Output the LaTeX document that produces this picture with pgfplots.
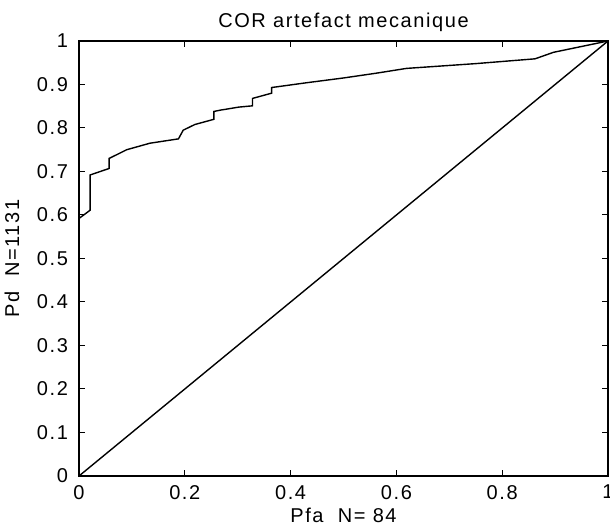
\documentclass[border=0pt]{standalone}
\usepackage{fontspec}
\setmainfont{Liberation Sans}[LetterSpace=8]
\usepackage{pgfplots}
\pgfplotsset{compat=1.18}
\begin{document}
\begin{tikzpicture}
\begin{axis}[
  scale only axis,
  width=264.5pt, height=217.5pt,
  xmin=0, xmax=1, ymin=0, ymax=1,
  xtick={0,0.2,0.4,0.6,0.8,1},
  ytick={0,0.1,0.2,0.3,0.4,0.5,0.6,0.7,0.8,0.9,1},
  xticklabels={0,0.2,0.4,0.6,0.8,1},
  yticklabels={0,0.1,0.2,0.3,0.4,0.5,0.6,0.7,0.8,0.9,1},
  tick align=inside,
  major tick length=3pt,
  tick style={black, line width=0.5pt},
  axis line style={line width=0.6pt},
  ticklabel style={font=\fontsize{10}{11}\selectfont},
  yticklabel style={xshift=-2pt},
  xticklabel style={yshift=-1pt},
  title={COR artefact mecanique},
  title style={font=\fontsize{10}{11}\selectfont, yshift=-5pt},
  xlabel={Pfa\ \ N= 84},
  ylabel={Pd\ \ N=1131},
  label style={font=\fontsize{10}{11}\selectfont},
  xlabel style={yshift=2.5pt},
  ylabel style={yshift=2pt},
  clip=false,
]
\addplot[black, line width=0.7pt] coordinates {
(0,0.592) (0.021,0.611) (0.021,0.692) (0.057,0.707) (0.057,0.730)
(0.09,0.750) (0.134,0.765) (0.188,0.775) (0.197,0.795) (0.219,0.808)
(0.255,0.820) (0.255,0.838) (0.267,0.841) (0.302,0.848) (0.328,0.851)
(0.328,0.868) (0.364,0.880) (0.364,0.893) (0.430,0.904) (0.500,0.915)
(0.562,0.926) (0.619,0.937) (0.75,0.948) (0.862,0.959) (0.897,0.974)
(1,1)
};
\addplot[black, line width=0.7pt] coordinates {(0,0) (1,1)};
\coordinate (bl) at (axis cs:0,0);
\coordinate (tr) at (axis cs:1,1);
\end{axis}
\pgfresetboundingbox
\useasboundingbox ([xshift=-39.5pt,yshift=-24pt]bl) rectangle ([xshift=1pt,yshift=20.5pt]tr);
\end{tikzpicture}
\end{document}
